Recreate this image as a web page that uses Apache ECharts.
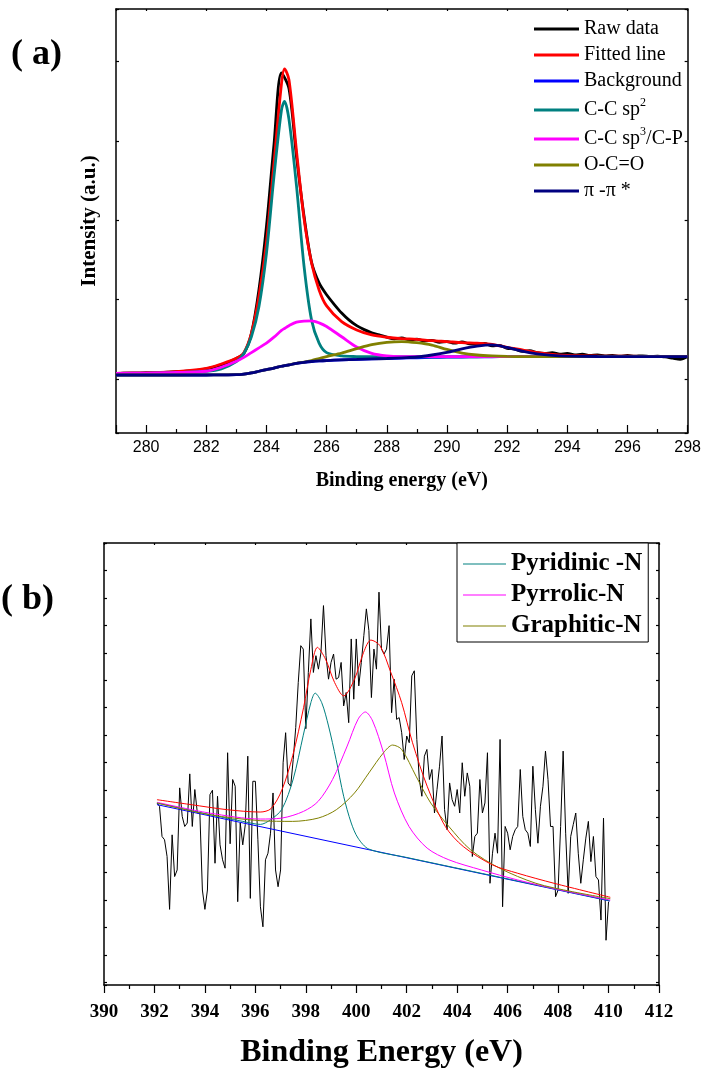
<!DOCTYPE html>
<html>
<head>
<meta charset="utf-8">
<script src="https://cdn.jsdelivr.net/npm/echarts@6/dist/echarts.min.js"></script>
<style>
  html, body { margin: 0; padding: 0; background: #fff; }
  #main { width: 704px; height: 1074px; }
</style>
</head>
<body>
<div id="main"></div>
<script>
// ---- panel (a): C 1s ----
let cEnergy = [279, 280, 281, 282, 282.5, 283, 283.25, 283.5, 283.75, 284, 284.25, 284.5, 284.6, 284.75, 285, 285.25, 285.5, 285.75, 286, 286.5, 287, 287.5, 288, 288.5, 289, 289.5, 290, 290.5, 291, 291.5, 292, 292.5, 293, 293.5, 294, 295, 296, 297, 298];
let cFit = [106.9, 107.7, 109.0, 113.2, 118.7, 125.8, 133.0, 157.4, 203.7, 272.0, 372.0, 472.0, 491.0, 477.0, 387.0, 302.0, 246.0, 212.1, 191.9, 172.1, 161.6, 155.3, 152.4, 150.7, 149.8, 148.1, 146.9, 145.6, 144.8, 143.5, 139.7, 136.4, 133.0, 130.9, 129.6, 128.8, 128.4, 128.0, 128.0];
let cBackground = [104.8, 104.8, 104.8, 104.8, 104.9, 105.2, 106.0, 107.5, 109.5, 111.5, 113.5, 115.8, 116.5, 117.5, 119.5, 120.8, 121.8, 122.5, 123.0, 123.8, 124.4, 125.0, 125.6, 126.1, 126.5, 126.9, 127.2, 127.5, 127.7, 127.8, 127.9, 128.0, 128.0, 128.0, 128.0, 128.0, 128.0, 128.0, 128.0];
let cSp2 = [106.9, 107.2, 107.8, 109.5, 112.5, 121.6, 132.0, 153.0, 191.0, 258.0, 355.0, 439.0, 450.0, 427.0, 343.0, 242.0, 174.0, 145.0, 133.0, 128.8, 128.0, 127.8, 127.8, 127.8, 127.8, 127.8, 127.8, 127.8, 127.8, 127.9, 128.0, 128.0, 128.0, 128.0, 128.0, 128.0, 128.0, 128.0, 128.0];
let cSp3 = [106.9, 107.2, 107.9, 109.5, 114.5, 122.0, 127.0, 133.0, 139.0, 145.0, 152.5, 161.0, 163.5, 167.0, 171.5, 172.8, 173.0, 170.5, 166.0, 153.0, 140.0, 132.0, 128.8, 128.0, 128.0, 128.0, 128.0, 128.0, 128.0, 128.0, 128.0, 128.0, 128.0, 128.0, 128.0, 128.0, 128.0, 128.0, 128.0];
let cOCO = [104.8, 104.8, 104.8, 104.9, 105.0, 105.2, 106.0, 107.5, 109.5, 111.5, 113.5, 115.8, 116.5, 117.5, 119.5, 121.0, 123.0, 125.5, 128.0, 132.5, 138.0, 143.0, 146.0, 147.0, 145.5, 142.5, 137.0, 132.5, 130.0, 128.8, 128.2, 128.0, 128.0, 128.0, 128.0, 128.0, 128.0, 128.0, 128.0];
let cPi = [104.8, 104.8, 104.8, 104.8, 104.9, 105.2, 106.0, 107.5, 109.5, 111.5, 113.5, 115.8, 116.5, 117.5, 119.5, 120.8, 121.8, 122.5, 123.0, 123.8, 124.4, 125.0, 125.6, 126.5, 127.5, 130.0, 133.3, 137.8, 141.2, 142.7, 139.5, 135.0, 131.5, 129.5, 128.6, 128.1, 128.0, 128.0, 128.0];
// raw C 1s spectrum, 0.25 eV steps from 279 eV
let cRawStart = 279, cRawStep = 0.25;
let cRaw = [106.5, 107.0, 107.2, 107.1, 107.6, 107.9, 108.0, 108.4, 108.9, 109.3, 110.0, 110.8, 112.5, 114.6, 117.5, 121.0, 125.5, 132.0, 157.0, 212.0, 292.0, 395.0, 486.0, 466.0, 380.0, 305.0, 247.0, 221.0, 206.0, 194.0, 183.0, 174.0, 167.0, 162.0, 158.0, 155.5, 152.5, 150.5, 151.5, 149.0, 150.0, 147.5, 148.5, 146.0, 147.0, 145.0, 146.5, 144.0, 143.5, 144.5, 141.5, 142.0, 138.5, 137.5, 134.5, 135.5, 133.0, 132.0, 133.0, 131.0, 132.0, 130.0, 131.0, 129.5, 130.0, 129.0, 129.5, 128.5, 129.5, 128.5, 129.0, 128.0, 128.5, 127.5, 126.0, 124.5, 128.0];

// ---- panel (b): N 1s ----
let nBgEnergy = [392.1, 410.05];
let nBg = [329.4, 259.2];
let nPyridinicEnergy = [392.1, 394, 395.5, 396.2, 396.6, 397.05, 397.5, 397.9, 398.2, 398.37, 398.63, 398.9, 399.2, 399.5, 399.8, 400.07, 400.5, 402, 405, 408, 410.05];
let nPyridinic = [330.6, 322.9, 317.2, 315.0, 318.4, 326.0, 348.0, 380.0, 403.7, 410.6, 403.7, 386.7, 362.3, 335.5, 316.0, 305.0, 297.0, 290.9, 279.2, 267.5, 259.4];
let nPyrrolicEnergy = [392.1, 394.17, 396.19, 397.05, 397.91, 398.49, 399.06, 399.64, 400.07, 400.36, 400.65, 401.08, 401.51, 402.09, 402.81, 403.67, 404.96, 406.4, 407.99, 410.07];
let nPyrrolic = [331.1, 323.3, 318.9, 319.6, 324.5, 331.8, 347.7, 372.1, 391.6, 396.9, 390.3, 367.2, 337.9, 313.5, 297.7, 289.2, 281.8, 274.5, 267.7, 259.9];
let nGraphiticEnergy = [392.1, 394.17, 396.19, 397.48, 398.49, 399.21, 399.93, 400.5, 401.08, 401.44, 401.8, 402.37, 402.95, 403.67, 404.53, 405.68, 407.12, 408.56, 410.07];
let nGraphitic = [330.6, 322.1, 317.7, 317.2, 319.6, 325.7, 337.9, 352.5, 367.2, 372.8, 369.6, 350.1, 330.6, 313.5, 296.5, 283.1, 272.1, 266.0, 260.9];
let nFitEnergy = [392.1, 393.45, 394.89, 396.19, 396.62, 397.05, 397.48, 397.91, 398.2, 398.46, 398.78, 399.14, 399.5, 399.93, 400.29, 400.58, 400.94, 401.37, 401.8, 402.23, 402.81, 403.53, 404.24, 405.4, 406.4, 407.84, 410.07];
let nFit = [333.0, 329.4, 325.7, 324.0, 326.5, 340.0, 365.0, 400.0, 428.0, 444.0, 435.4, 418.4, 408.6, 420.8, 440.3, 449.3, 445.2, 425.7, 403.7, 374.5, 342.8, 313.5, 298.9, 285.5, 279.4, 272.1, 261.9];
// raw N 1s spectrum, 0.1 eV steps from 392.1 eV
let nRawStart = 392.1, nRawStep = 0.1;
let nRaw = [330.6, 328.2, 306.2, 303.8, 291.6, 253.1, 307.4, 277.0, 281.8, 341.6,
    320.8, 313.5, 316.0, 351.8, 313.5, 340.4, 323.3, 323.3, 267.2, 253.1,
    267.2, 336.7, 339.9, 286.7, 335.5, 300.1, 289.2, 283.1, 367.2, 300.9,
    347.7, 342.8, 258.7, 316.0, 300.1, 314.8, 364.7, 261.1, 346.4, 346.4,
    303.8, 255.0, 240.4, 289.2, 294.0, 308.6, 337.9, 281.8, 269.6, 281.8,
    359.9, 381.8, 345.2, 342.8, 362.3, 385.5, 418.4, 445.2, 442.7, 384.7,
    425.7, 464.7, 425.7, 437.9, 428.1, 440.3, 474.4, 437.9, 420.8, 433.0,
    439.1, 420.8, 422.0, 433.0, 401.3, 411.1, 389.1, 450.1, 406.2, 450.1,
    415.9, 433.0, 452.5, 472.0, 456.2, 407.4, 442.7, 428.1, 484.2, 442.7,
    439.1, 442.7, 459.8, 396.4, 420.8, 391.5, 392.8, 381.8, 362.3, 379.4,
    374.5, 423.2, 426.9, 376.9, 347.7, 335.5, 364.7, 369.6, 347.7, 355.0,
    323.3, 340.4, 357.4, 379.4, 325.7, 311.1, 345.2, 333.0, 328.2, 340.4,
    323.3, 359.9, 335.5, 352.5, 342.8, 291.6, 306.2, 308.6, 347.7, 323.3,
    330.6, 367.2, 272.1, 294.0, 308.6, 294.0, 376.9, 255.0, 313.5, 308.6,
    296.5, 306.2, 311.1, 313.5, 355.0, 320.8, 311.1, 308.6, 298.9, 357.4,
    325.7, 301.3, 328.2, 342.8, 368.4, 347.7, 313.5, 313.5, 262.3, 267.2,
    313.5, 368.4, 308.6, 264.8, 306.2, 314.8, 323.3, 294.0, 272.1, 289.2,
    305.0, 317.2, 287.9, 306.2, 277.0, 274.5, 245.3, 319.6, 230.6, 258.7];

let legendA = ["Raw data", "Fitted line", "Background", "C-C sp2", "C-C sp3/C-P", "O-C=O", "π -π *"];
let legendB = ["Pyridinic -N", "Pyrrolic-N", "Graphitic-N"];

function pairs(xs, ys) {
    return ys.map(function (y, i) { return [xs[i], y]; });
}
function stepped(start, step, ys) {
    return ys.map(function (y, i) { return [+(start + i * step).toFixed(3), y]; });
}

let serif = "Liberation Serif";
let sans = "Liberation Sans";

function lineA(name, data, color, smooth) {
    return {
        name: name, type: "line", xAxisIndex: 0, yAxisIndex: 0,
        data: data, symbol: "none", smooth: smooth,
        lineStyle: { color: color, width: 2.8 },
        itemStyle: { color: color },
    };
}
function lineB(name, data, color, smooth) {
    return {
        name: name, type: "line", xAxisIndex: 2, yAxisIndex: 2,
        data: data, symbol: "none", smooth: smooth,
        lineStyle: { color: color, width: 1 },
        itemStyle: { color: color },
    };
}

let axisLine = { show: true, lineStyle: { color: "#000", width: 1.5 } };
let tickLine = { color: "#000", width: 1.2 };

let dom = document.getElementById("main");
let myChart = echarts.init(dom, null, { renderer: "canvas" });
let option;

option = {
    animation: false,
    backgroundColor: "#fff",
    grid: [
        { left: 116, top: 9, width: 572, height: 424 },
        { left: 104, top: 543, width: 555, height: 442 },
    ],
    graphic: [
        { type: "text", left: 11, top: 37, style: { text: "( a)", font: 'bold 36px "Liberation Serif"', fill: "#000" } },
        { type: "text", left: 1, top: 582, style: { text: "( b)", font: 'bold 36px "Liberation Serif"', fill: "#000" } },
    ],
    legend: [
        {
            data: legendA,
            orient: "vertical",
            left: 534, top: 19, padding: 0,
            icon: "rect", itemWidth: 45, itemHeight: 3, itemGap: 6,
            formatter: function (name) {
                if (name === "C-C sp2") return "{t|C-C sp}{s|2}";
                if (name === "C-C sp3/C-P") return "{t|C-C sp}{s|3}{t|/C-P}";
                return "{t|" + name + "}";
            },
            textStyle: {
                rich: {
                    t: { fontFamily: serif, fontSize: 20, lineHeight: 26, color: "#000" },
                    s: { fontFamily: serif, fontSize: 12, lineHeight: 12, verticalAlign: "top", color: "#000" },
                },
            },
        },
        {
            data: legendB,
            orient: "vertical",
            left: 457, top: 543, padding: [8, 6, 3, 6],
            borderColor: "#000", borderWidth: 1, backgroundColor: "#fff",
            icon: "rect", itemWidth: 43, itemHeight: 1, itemGap: 5,
            textStyle: { fontFamily: serif, fontWeight: "bold", fontSize: 25, lineHeight: 26, color: "#000" },
        },
    ],
    xAxis: [
        {
            gridIndex: 0, type: "value", position: "bottom",
            min: 279, max: 298, splitNumber: 10,
            axisLine: axisLine,
            axisTick: { show: true, inside: true, length: 8, lineStyle: tickLine },
            minorTick: { show: true, splitNumber: 2, length: 4, lineStyle: tickLine },
            splitLine: { show: false },
            axisLabel: { showMinLabel: false, color: "#000", fontFamily: sans, fontSize: 16, margin: 7 },
            name: "Binding energy (eV)", nameLocation: "middle", nameGap: 38,
            nameTextStyle: { fontFamily: serif, fontWeight: "bold", fontSize: 20, color: "#000" },
        },
        {
            gridIndex: 0, type: "value", position: "top",
            min: 279, max: 298, splitNumber: 10,
            axisLine: axisLine,
            axisTick: { show: true, inside: true, length: 2, lineStyle: tickLine },
            axisLabel: { show: false }, splitLine: { show: false },
        },
        {
            gridIndex: 1, type: "value", position: "bottom",
            min: 390, max: 412, interval: 2,
            axisLine: axisLine,
            axisTick: { show: true, inside: false, length: 8, lineStyle: tickLine },
            minorTick: { show: true, splitNumber: 2, length: 4, lineStyle: tickLine },
            splitLine: { show: false },
            axisLabel: { color: "#000", fontFamily: serif, fontWeight: "bold", fontSize: 19, margin: 18 },
            name: "Binding Energy (eV)", nameLocation: "middle", nameGap: 52,
            nameTextStyle: { fontFamily: serif, fontWeight: "bold", fontSize: 32, color: "#000" },
        },
        {
            gridIndex: 1, type: "value", position: "top",
            min: 390, max: 412, interval: 2,
            axisLine: axisLine,
            axisTick: { show: true, inside: true, length: 2, lineStyle: tickLine },
            axisLabel: { show: false }, splitLine: { show: false },
        },
    ],
    yAxis: [
        {
            gridIndex: 0, type: "value", position: "left",
            min: 31.6, max: 566.5, splitNumber: 5,
            axisLine: axisLine,
            axisTick: { show: true, inside: true, length: 3, lineStyle: tickLine },
            axisLabel: { show: false }, splitLine: { show: false },
            name: "Intensity (a.u.)", nameLocation: "middle", nameGap: 16,
            nameTextStyle: { fontFamily: serif, fontWeight: "bold", fontSize: 21, color: "#000" },
        },
        {
            gridIndex: 0, type: "value", position: "right",
            min: 31.6, max: 566.5, splitNumber: 5,
            axisLine: axisLine,
            axisTick: { show: true, inside: true, length: 3, lineStyle: tickLine },
            axisLabel: { show: false }, splitLine: { show: false },
        },
        {
            gridIndex: 1, type: "value", position: "left",
            min: 198, max: 520, splitNumber: 16,
            axisLine: axisLine,
            axisTick: { show: true, inside: true, length: 3, lineStyle: tickLine },
            axisLabel: { show: false }, splitLine: { show: false },
        },
        {
            gridIndex: 1, type: "value", position: "right",
            min: 198, max: 520, splitNumber: 16,
            axisLine: axisLine,
            axisTick: { show: true, inside: true, length: 3, lineStyle: tickLine },
            axisLabel: { show: false }, splitLine: { show: false },
        },
    ],
    series: [
        lineA("Raw data", stepped(cRawStart, cRawStep, cRaw), "#000000", 0.3),
        lineA("Fitted line", pairs(cEnergy, cFit), "#ff0000", 0.3),
        lineA("Background", pairs(cEnergy, cBackground), "#0000ff", 0.3),
        lineA("C-C sp2", pairs(cEnergy, cSp2), "#008080", 0.3),
        lineA("C-C sp3/C-P", pairs(cEnergy, cSp3), "#ff00ff", 0.3),
        lineA("O-C=O", pairs(cEnergy, cOCO), "#808000", 0.3),
        lineA("π -π *", pairs(cEnergy, cPi), "#000080", 0.3),

        lineB("N raw data", stepped(nRawStart, nRawStep, nRaw), "#000000", false),
        lineB("N background", pairs(nBgEnergy, nBg), "#0000ff", false),
        lineB("Pyridinic -N", pairs(nPyridinicEnergy, nPyridinic), "#008080", 0.3),
        lineB("Pyrrolic-N", pairs(nPyrrolicEnergy, nPyrrolic), "#ff00ff", 0.3),
        lineB("Graphitic-N", pairs(nGraphiticEnergy, nGraphitic), "#808000", 0.3),
        lineB("N fitted line", pairs(nFitEnergy, nFit), "#ff0000", 0.3),
    ],
};

if (option && typeof option === "object") {
    myChart.setOption(option);
}

window.addEventListener("resize", myChart.resize);
</script>
</body>
</html>
